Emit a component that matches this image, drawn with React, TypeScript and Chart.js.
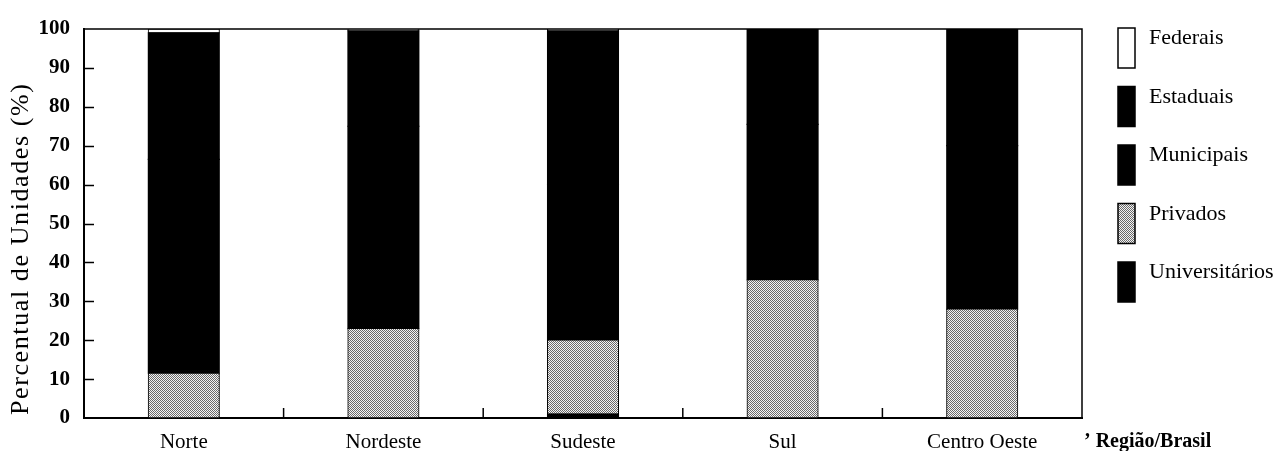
import React, { useEffect, useRef } from "react";
import { Chart, registerables } from "chart.js";

Chart.register(...registerables);

const categories = ["Norte", "Nordeste", "Sudeste", "Sul", "Centro Oeste"];
const seriesNames = ["Universitários", "Privados", "Municipais", "Estaduais", "Federais"];
const universitarios = [0, 0, 1, 0, 0];
const privados = [11.5, 23, 19, 35.5, 28];
const municipais = [55, 52, 40, 40, 42];
const estaduais = [32.5, 24.5, 39.5, 24.5, 30];
const federais = [1, 0.5, 0.5, 0, 0];
const yTickValues = [0, 10, 20, 30, 40, 50, 60, 70, 80, 90, 100];
const yTitle = "Percentual de Unidades (%)";
const xTitle = "\u2019 Região/Brasil";

const FONT = "'Liberation Serif', 'DejaVu Serif', serif";

function makePattern(): CanvasPattern | string {
  const c = document.createElement("canvas");
  c.width = 2;
  c.height = 2;
  const g = c.getContext("2d");
  if (!g) return "#c0c0c0";
  g.fillStyle = "#f4f4f4";
  g.fillRect(0, 0, 2, 2);
  g.fillStyle = "#6a6a6a";
  g.fillRect(0, 0, 1, 1);
  g.fillRect(1, 1, 1, 1);
  const p = g.createPattern(c, "repeat");
  return p || "#c0c0c0";
}

const framePlugin = {
  id: "frameAndTicks",
  afterDatasetsDraw(chart: any) {
    const { ctx, chartArea, scales } = chart;
    const x = scales.x;
    const y = scales.y;
    ctx.save();
    ctx.strokeStyle = "#000";
    ctx.lineWidth = 1.5;
    ctx.beginPath();
    ctx.moveTo(chartArea.left, chartArea.top);
    ctx.lineTo(chartArea.right, chartArea.top);
    ctx.lineTo(chartArea.right, chartArea.bottom);
    ctx.stroke();
    yTickValues.forEach((v) => {
      if (v === 0 || v === 100) return;
      const py = Math.round(y.getPixelForValue(v)) + 0.5;
      ctx.beginPath();
      ctx.moveTo(chartArea.left, py);
      ctx.lineTo(chartArea.left + 10, py);
      ctx.stroke();
    });
    for (let i = 0; i < categories.length - 1; i++) {
      const px = (x.getPixelForValue(i) + x.getPixelForValue(i + 1)) / 2;
      ctx.beginPath();
      ctx.moveTo(px, chartArea.bottom);
      ctx.lineTo(px, chartArea.bottom - 10);
      ctx.stroke();
    }
    ctx.fillStyle = "#000";
    ctx.font = `bold 20px ${FONT}`;
    ctx.textAlign = "left";
    ctx.textBaseline = "alphabetic";
    ctx.fillText(xTitle, chartArea.right + 2, chartArea.bottom + 29);

    // y axis title, rotated
    ctx.save();
    ctx.translate(chartArea.left - 56, chartArea.bottom - 3);
    ctx.rotate(-Math.PI / 2);
    ctx.font = `26px ${FONT}`;
    try {
      (ctx as any).letterSpacing = "1.6px";
    } catch (e) {}
    ctx.textAlign = "left";
    ctx.textBaseline = "alphabetic";
    ctx.fillText(yTitle, 0, 0);
    ctx.restore();
    ctx.restore();
  },
};

const legendPlugin = {
  id: "tallLegend",
  afterDraw(chart: any) {
    const { ctx, chartArea } = chart;
    const ds = chart.data.datasets;
    ctx.save();
    const bx = chartArea.right + 36;
    let top = chartArea.top - 1;
    for (let i = ds.length - 1; i >= 0; i--) {
      ctx.fillStyle = ds[i].backgroundColor;
      ctx.fillRect(bx, top, 17, 40);
      ctx.strokeStyle = "#000";
      ctx.lineWidth = 1.5;
      ctx.strokeRect(bx, top, 17, 40);
      ctx.fillStyle = "#000";
      ctx.font = `22px ${FONT}`;
      ctx.textAlign = "left";
      ctx.textBaseline = "alphabetic";
      ctx.fillText(ds[i].label, bx + 31, top + 16);
      top += 58.5;
    }
    ctx.restore();
  },
};

export default function App() {
  const ref = useRef<HTMLCanvasElement | null>(null);

  useEffect(() => {
    if (!ref.current) return;
    const pattern = makePattern();
    const values = [universitarios, privados, municipais, estaduais, federais];
    const colors: any[] = ["#000000", pattern, "#000000", "#000000", "#ffffff"];
    const borders = [0, 1, 0, 0, 1];
    const chart = new Chart(ref.current, {
      type: "bar",
      data: {
        labels: categories,
        datasets: seriesNames.map((name, i) => ({
          label: name,
          data: values[i],
          backgroundColor: colors[i],
          borderColor: "#000000",
          borderWidth: borders[i],
          inflateAmount: 0.6,
          borderSkipped: false,
          barPercentage: 0.355,
          categoryPercentage: 1,
        })),
      },
      options: {
        animation: false,
        responsive: true,
        maintainAspectRatio: false,
        layout: { padding: { left: 4, right: 195, top: 29, bottom: 0 } },
        plugins: {
          legend: { display: false },
          tooltip: { enabled: false },
          title: { display: false },
        },
        scales: {
          x: {
            stacked: true,
            grid: { display: false, drawTicks: false },
            border: { display: true, color: "#000", width: 2 },
            ticks: {
              color: "#000",
              padding: 12,
              maxRotation: 0,
              font: { family: FONT, size: 21 },
            },
            afterFit: (s: any) => {
              s.height = 33;
            },
          },
          y: {
            stacked: true,
            min: 0,
            max: 100,
            grid: { display: false, drawTicks: false },
            border: { display: true, color: "#000", width: 2 },
            afterBuildTicks: (s: any) => {
              s.ticks = yTickValues.map((v) => ({ value: v }));
            },
            ticks: {
              color: "#000",
              padding: 14,
              font: { family: FONT, size: 21, weight: "bold" },
            },
            afterFit: (s: any) => {
              s.width = 80;
            },
          },
        },
      },
      plugins: [framePlugin, legendPlugin],
    });
    return () => chart.destroy();
  }, []);

  return (
    <div style={{ position: "fixed", left: 0, top: 0, width: 1277, height: 451, background: "#fff" }}>
      <canvas ref={ref} />
    </div>
  );
}
